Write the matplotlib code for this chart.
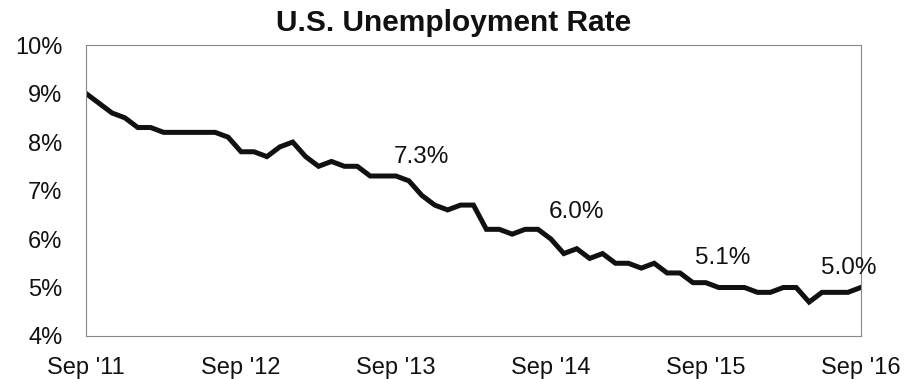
import matplotlib.pyplot as plt
import pandas as pd

plt.rcParams["font.family"] = ["Liberation Sans", "DejaVu Sans"]

# Monthly unemployment rate, Sep 2011 - Sep 2016 (percent)
months = pd.date_range("2011-09-01", "2016-09-01", freq="MS")
rates = [
    9.0, 8.8, 8.6, 8.5,
    8.3, 8.3, 8.2, 8.2, 8.2, 8.2, 8.2, 8.1, 7.8, 7.8, 7.7, 7.9,
    8.0, 7.7, 7.5, 7.6, 7.5, 7.5, 7.3, 7.3, 7.3, 7.2, 6.9, 6.7,
    6.6, 6.7, 6.7, 6.2, 6.2, 6.1, 6.2, 6.2, 6.0, 5.7, 5.8, 5.6,
    5.7, 5.5, 5.5, 5.4, 5.5, 5.3, 5.3, 5.1, 5.1, 5.0, 5.0, 5.0,
    4.9, 4.9, 5.0, 5.0, 4.7, 4.9, 4.9, 4.9, 5.0,
]
tick_labels = ["Sep '11", "Sep '12", "Sep '13", "Sep '14", "Sep '15", "Sep '16"]
y_ticks = [4, 5, 6, 7, 8, 9, 10]

# September readings that get a value label, with label offsets (months, points)
labelled = ["2013-09-01", "2014-09-01", "2015-09-01", "2016-09-01"]
label_offsets = [(2, 0.4), (2, 0.56), (1.3, 0.5), (-0.9, 0.4)]

fig = plt.figure(figsize=(9.07, 3.79), dpi=100)
ax = fig.add_axes([0.095, 0.1135, 0.854, 0.7675])

x = list(range(len(months)))
ax.plot(x, rates, color="#111111", linewidth=3.6, solid_joinstyle="miter")

for date, (dx, dy) in zip(labelled, label_offsets):
    i = list(months).index(pd.Timestamp(date))
    ax.text(i + dx, rates[i] + dy, f"{rates[i]:.1f}%", ha="center", va="center",
            fontsize=17.5, color="#111111")

ax.set_xlim(0, len(months) - 1)
ax.set_ylim(4, 10)
ax.set_xticks(x[::12])
ax.set_xticklabels(tick_labels)
ax.set_yticks(y_ticks)
ax.set_yticklabels([f"{v}%" for v in y_ticks])
ax.tick_params(axis="both", length=0, labelsize=17, colors="#111111")
ax.tick_params(axis="x", pad=15)
ax.tick_params(axis="y", pad=17)

for spine in ax.spines.values():
    spine.set_color("#888888")
    spine.set_linewidth(0.8)

fig.suptitle("U.S. Unemployment Rate", x=0.5, y=0.975, fontsize=21.5,
             fontweight="bold", color="#111111")

fig.savefig("out.png", dpi=100)
